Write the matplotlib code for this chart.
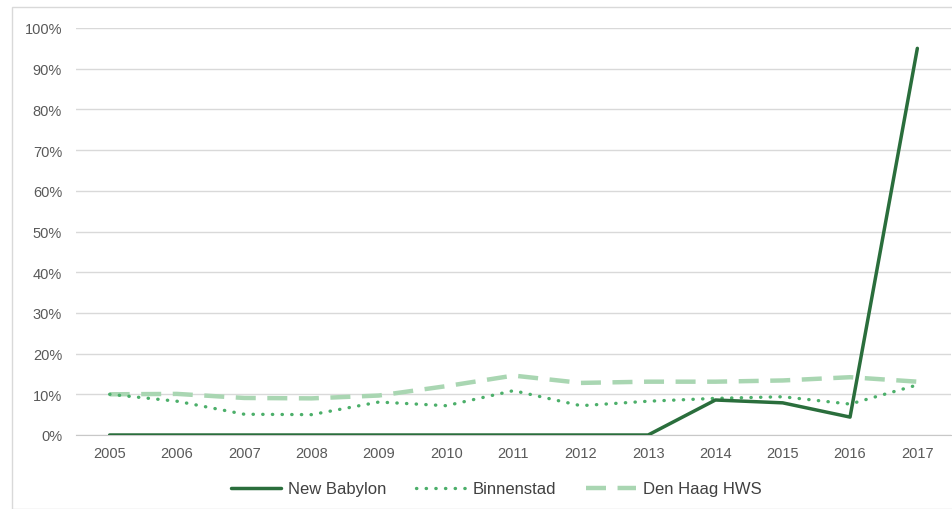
import matplotlib
matplotlib.use("Agg")
import matplotlib.pyplot as plt
from matplotlib.patches import Rectangle
from matplotlib.ticker import FuncFormatter

plt.rcParams['font.family'] = ['Liberation Sans', 'DejaVu Sans']

years = ["2005", "2006", "2007", "2008", "2009", "2010", "2011",
         "2012", "2013", "2014", "2015", "2016", "2017"]
new_babylon = [0, 0, 0, 0, 0, 0, 0, 0, 0, 8.6, 7.9, 4.4, 95.0]
binnenstad = [10.0, 8.3, 5.1, 5.0, 8.1, 7.2, 10.9, 7.2, 8.3, 9.0, 9.4, 7.6, 12.3]
den_haag = [10.0, 10.1, 9.1, 9.0, 9.7, 12.0, 14.6, 12.8, 13.1, 13.1, 13.4, 14.2, 13.1]

fig = plt.figure(figsize=(9.53, 5.10), dpi=100)
fig.patches.append(Rectangle((12/953, 0), 1, 1 - 8/510, transform=fig.transFigure,
                             fill=False, edgecolor='#d9d9d9', linewidth=1))

ax = fig.add_axes([76/953, 1 - 436/510, (951 - 76)/953, (436 - 29)/510])
x = list(range(len(years)))
ax.plot(x, new_babylon, color='#2a6e3c', linewidth=2.5, solid_capstyle='round',
        label='New Babylon', zorder=4)
ax.plot(x, binnenstad, color='#4caf6a', linewidth=2.4, linestyle=(0, (0.1, 2.8)),
        dash_capstyle='round', label='Binnenstad', zorder=3)
ax.plot(x, den_haag, color='#a9d6b2', linewidth=3.2, linestyle=(0, (4.5, 2.6)),
        label='Den Haag HWS', zorder=2)

ax.set_xlim(-0.5, len(years) - 0.5)
ax.set_ylim(0, 100)
ax.set_yticks(range(0, 101, 10))
ax.yaxis.set_major_formatter(FuncFormatter(lambda v, p: f"{int(v)}%"))
ax.set_xticks(x)
ax.set_xticklabels(years)
ax.tick_params(axis='both', length=0, labelsize=10.5, labelcolor='#595959')
ax.tick_params(axis='x', pad=8)
ax.tick_params(axis='y', pad=10)
ax.grid(axis='y', color='#d9d9d9', linewidth=1)
ax.set_axisbelow(True)
for s in ['top', 'right', 'left']:
    ax.spines[s].set_visible(False)
ax.spines['bottom'].set_color('#c8c8c8')

leg = fig.legend(loc='center', bbox_to_anchor=(496.5/953, 1 - 490/510), ncol=3, frameon=False,
                 fontsize=12, handlelength=3.0, columnspacing=1.8, handletextpad=0.4)
for t in leg.get_texts():
    t.set_color('#404040')

fig.savefig('out.png', dpi=100)
